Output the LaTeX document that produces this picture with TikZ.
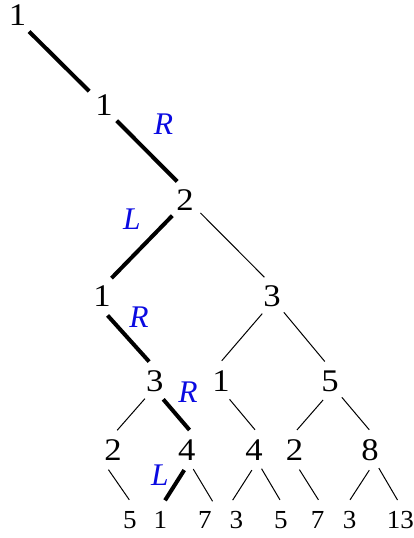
\documentclass[tikz,border=0pt]{standalone}
\usepackage{fontspec}
\setmainfont{Liberation Serif}
\newfontfamily\tmsw{Liberation Serif}[FakeStretch=1.1]
\newfontfamily\tmsl{Liberation Serif}[FakeStretch=1.04]
\definecolor{lblue}{RGB}{10,10,225}
\tikzset{
  num/.style={circle,minimum size=40pt,inner sep=0pt,font=\tmsw\fontsize{31.5}{31.5}\selectfont},
  leaf/.style={circle,minimum size=40pt,inner sep=0pt,font=\tmsl\fontsize{26}{26}\selectfont},
  lab/.style={inner sep=0pt,text=lblue,font=\fontsize{31.5}{31.5}\selectfont\itshape},
  thin edge/.style={line width=1pt},
  path edge/.style={line width=4pt},
}
\begin{document}
\begin{tikzpicture}[x=1pt,y=-1pt]
\useasboundingbox (0,0) rectangle (414,538);
% nodes
\node[num] (r) at (17.5,15) {1};
\node[num] (a) at (104,105) {1};
\node[num] (b) at (185,200) {2};
\node[num] (c1) at (102,296) {1};
\node[num] (c2) at (272,296) {3};
\node[num] (d1) at (154.7,381) {3};
\node[num] (d2) at (221,381) {1};
\node[num] (d3) at (330,381) {5};
\node[num] (e1) at (113,450) {2};
\node[num] (e2) at (186.7,450) {4};
\node[num] (e3) at (254,450) {4};
\node[num] (e4) at (294.5,450) {2};
\node[num] (e5) at (370,450) {8};
\node[leaf] (f1) at (130,520) {5};
\node[leaf] (f2) at (160.5,520) {1};
\node[leaf] (f3) at (205,520) {7};
\node[leaf] (f4) at (236.5,520) {3};
\node[leaf] (f5) at (281,520) {5};
\node[leaf] (f6) at (317.7,520) {7};
\node[leaf] (f7) at (349.7,520) {3};
\node[leaf] (f8) at (400.3,520) {13};
% labels
\node[lab] (l1) at (163.5,124.5) {R};
\node[lab] (l2) at (132,219) {L};
\node[lab] (l3) at (139,317) {R};
\node[lab] (l4) at (188,392) {R};
\node[lab] (l5) at (160,475) {L};
% path edges
\draw[path edge] (r.-55.7) -- (a.137.7);
\draw[path edge] (a.-51) -- (b.113.3);
\draw[path edge] (b.-129.7) -- (c1.62.7);
\draw[path edge] (c1.-74.3) -- (d1.106.4);
\draw[path edge] (d1.-65.2) -- (e2.82.8);
\draw[path edge] (e2.-97.7) -- (f2.77.3);
% thin edges
\draw[thin edge] (b.-40.1) -- (c2.112.5);
\draw[thin edge] (c2.-119.1) -- (d2.88);
\draw[thin edge] (c2.-54.3) -- (d3.105.7);
\draw[thin edge] (d1.-119.3) -- (e1.78.3);
\draw[thin edge] (d2.-65.9) -- (e3.87.2);
\draw[thin edge] (d3.-110.2) -- (e4.83.9);
\draw[thin edge] (d3.-54.3) -- (e5.92);
\draw[thin edge] (e1.-103.7) -- (f1.92);
\draw[thin edge] (e2.-71.1) -- (f3.68.2);
\draw[thin edge] (e3.-96.8) -- (f4.101.1);
\draw[thin edge] (e3.-68.2) -- (f5.93);
\draw[thin edge] (e4.-76.9) -- (f6.88.2);
\draw[thin edge] (e5.-92) -- (f7.89);
\draw[thin edge] (e5.-64.3) -- (f8.98);
\end{tikzpicture}
\end{document}
